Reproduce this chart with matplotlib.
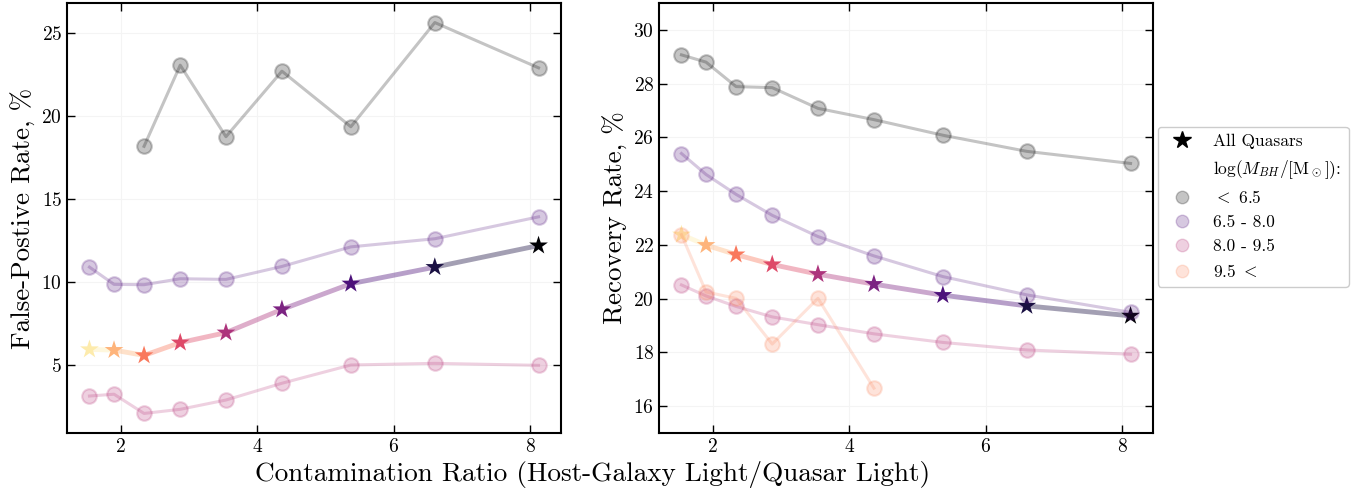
import numpy as np
import matplotlib
matplotlib.use('Agg')
import matplotlib.pyplot as plt
from matplotlib.collections import LineCollection
from matplotlib.lines import Line2D

plt.rcParams['font.family'] = 'serif'
plt.rcParams['font.serif'] = ['cmr10']
plt.rcParams['mathtext.fontset'] = 'cm'
plt.rcParams['axes.formatter.use_mathtext'] = True
plt.rcParams['axes.unicode_minus'] = False

# contamination ratio (host light / quasar light)
ratio = [1.54, 1.90, 2.34, 2.87, 3.54, 4.36, 5.37, 6.60, 8.12]

# false-positive rate, %
fp_all = [5.94, 5.90, 5.58, 6.35, 6.95, 8.35, 9.90, 10.90, 12.20]
fp_lt65 = [np.nan, np.nan, 18.18, 23.07, 18.76, 22.71, 19.36, 25.64, 22.91]
fp_65_80 = [10.90, 9.86, 9.84, 10.20, 10.16, 10.94, 12.12, 12.61, 13.93]
fp_80_95 = [3.13, 3.24, 2.08, 2.33, 2.89, 3.90, 5.00, 5.10, 4.98]

# recovery rate, %
rec_all = [22.38, 21.99, 21.64, 21.27, 20.91, 20.54, 20.13, 19.73, 19.36]
rec_lt65 = [29.07, 28.80, 27.89, 27.85, 27.08, 26.66, 26.08, 25.48, 25.03]
rec_65_80 = [25.40, 24.62, 23.88, 23.10, 22.31, 21.59, 20.82, 20.14, 19.49]
rec_80_95 = [20.51, 20.10, 19.71, 19.32, 19.03, 18.69, 18.37, 18.09, 17.93]
rec_gt95 = [22.38, 20.25, 20.01, 18.31, 20.01, 16.67]

bin_labels = [r'$<$ 6.5', '6.5 - 8.0', '8.0 - 9.5', r'9.5 $<$']

cmap = plt.get_cmap('magma')
bin_colors = ['k', cmap(0.25), cmap(0.5), cmap(0.75)]
star_colors = [cmap(v) for v in np.linspace(0.96, 0.0, len(ratio))]
alpha = 0.23

fig = plt.figure(figsize=(13.54, 4.93), dpi=100)
W, H = 1354, 493
ax1 = fig.add_axes([67 / W, 60 / H, 494 / W, 430 / H])
ax2 = fig.add_axes([659 / W, 60 / H, 494 / W, 430 / H])


def draw(ax, series, allq):
    for i, ys in enumerate(series):
        if ys is None:
            continue
        xs = ratio[:len(ys)]
        ax.plot(xs, ys, '-o', color=bin_colors[i], alpha=alpha, lw=2.2,
                ms=10.5, mew=1.5, zorder=4)
    pts = np.column_stack([ratio, allq])
    segs = [pts[k:k + 2] for k in range(len(pts) - 1)]
    seg_cols = [(c[0], c[1], c[2], 0.4) for c in star_colors[:-1]]
    ax.add_collection(LineCollection(segs, colors=seg_cols, lw=3.5, zorder=2))
    ax.scatter(ratio, allq, marker='*', s=200, c=star_colors, zorder=3,
               linewidths=0)
    ax.autoscale_view()
    ax.grid(True, color='0.955', lw=0.8)
    ax.set_axisbelow(True)
    ax.tick_params(direction='in', top=True, right=True, labelsize=14,
                   length=6, width=1)
    for s in ax.spines.values():
        s.set_linewidth(1.5)


draw(ax1, [fp_lt65, fp_65_80, fp_80_95, None], fp_all)
draw(ax2, [rec_lt65, rec_65_80, rec_80_95, rec_gt95], rec_all)

ax1.set_yticks([5, 10, 15, 20, 25])
ax2.set_ylim(15, 31)
ax2.set_yticks(np.arange(16, 31, 2))
for ax in (ax1, ax2):
    ax.set_xticks([2, 4, 6, 8])

ax1.set_ylabel('False-Postive Rate, %', fontsize=19.5)
ax2.set_ylabel('Recovery Rate, %', fontsize=19.5)
fig.text(593 / W, 1 - 475 / H,
         'Contamination Ratio (Host-Galaxy Light/Quasar Light)',
         fontsize=19.6, ha='center', va='center')

handles = [Line2D([], [], ls='none', marker='*', color='k', ms=13),
           Line2D([], [], ls='none')]
labels = ['All Quasars', r'log($M_{BH}$/[M$_\odot$]):']
for c, lab in zip(bin_colors, bin_labels):
    handles.append(Line2D([], [], ls='none', marker='o', color=c,
                          alpha=alpha, ms=9))
    labels.append(lab)
ax2.legend(handles, labels, loc='upper left', bbox_to_anchor=(1.01, 0.712),
           borderaxespad=0, fontsize=12.5, framealpha=1)

plt.savefig('out.png', dpi=100)
